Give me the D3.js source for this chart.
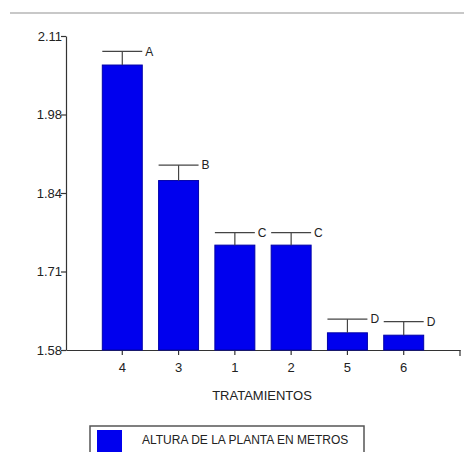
<!DOCTYPE html>
<html>
<head>
<meta charset="utf-8">
<script src="https://cdn.jsdelivr.net/npm/d3@7"></script>
<style>
  body { margin: 0; background: #fff; }
  text { font-family: "Liberation Sans", Arial, sans-serif; }
</style>
</head>
<body>
<script>
// data
var tratamientos = ['4', '3', '1', '2', '5', '6'];
var medias = [2.061, 1.866, 1.757, 1.757, 1.609, 1.605];
var errores = [0.023, 0.026, 0.021, 0.021, 0.023, 0.023];
var letras = ['A', 'B', 'C', 'C', 'D', 'D'];
var yTicks = [1.58, 1.7125, 1.845, 1.9775, 2.11];
var yTickLabels = ['1.58', '1.71', '1.84', '1.98', '2.11'];

var width = 464, height = 452;
var svg = d3.select('body').append('svg')
  .attr('width', width)
  .attr('height', height);

// top rule
svg.append('line')
  .attr('x1', 10).attr('x2', width)
  .attr('y1', 13).attr('y2', 13)
  .style('stroke', '#c8c8c8')
  .style('stroke-width', 2);

var x = d3.scaleBand()
  .domain(tratamientos)
  .range([66, 460])
  .paddingInner(0.29)
  .paddingOuter(0.645);

var y = d3.scaleLinear()
  .domain([1.58, 2.11])
  .range([350, 36]);

var axisColor = '#333';

// y axis
var yAxis = svg.append('g')
  .attr('transform', 'translate(66,0)')
  .call(d3.axisLeft(y)
    .tickValues(yTicks)
    .tickFormat(function(d, i) { return yTickLabels[i]; })
    .tickSize(5)
    .tickSizeOuter(0));

// x axis
var xAxis = svg.append('g')
  .attr('transform', 'translate(0,350)')
  .call(d3.axisBottom(x).tickSize(5).tickSizeOuter(0));

[yAxis, xAxis].forEach(function(ax) {
  ax.select('.domain').style('stroke', axisColor).style('stroke-width', 1.2);
  ax.selectAll('.tick line').style('stroke', axisColor).style('stroke-width', 1.2);
  ax.selectAll('.tick text')
    .style('font-family', '"Liberation Sans", Arial, sans-serif')
    .style('font-size', '13px')
    .style('fill', '#222');
});
yAxis.selectAll('.tick text').attr('x', -4);
xAxis.selectAll('.tick text').attr('dy', '1.05em');

// right end tick of x axis
svg.append('line')
  .attr('x1', 460).attr('x2', 460)
  .attr('y1', 350).attr('y2', 356)
  .style('stroke', axisColor).style('stroke-width', 1.2);

// bars
svg.append('g').selectAll('rect')
  .data(medias)
  .enter().append('rect')
  .attr('x', function(d, i) { return x(tratamientos[i]); })
  .attr('y', function(d) { return y(d); })
  .attr('width', x.bandwidth())
  .attr('height', function(d) { return y(1.58) - y(d); })
  .style('fill', '#0000ee')
  .style('stroke', '#0000a8')
  .style('stroke-width', 1);

// error bars
var err = svg.append('g').selectAll('g')
  .data(medias)
  .enter().append('g');

err.append('line')
  .attr('x1', function(d, i) { return x(tratamientos[i]) + x.bandwidth() / 2; })
  .attr('x2', function(d, i) { return x(tratamientos[i]) + x.bandwidth() / 2; })
  .attr('y1', function(d) { return y(d); })
  .attr('y2', function(d, i) { return y(d + errores[i]); })
  .style('stroke', '#444')
  .style('stroke-width', 1.2);

err.append('line')
  .attr('x1', function(d, i) { return x(tratamientos[i]); })
  .attr('x2', function(d, i) { return x(tratamientos[i]) + x.bandwidth(); })
  .attr('y1', function(d, i) { return y(d + errores[i]); })
  .attr('y2', function(d, i) { return y(d + errores[i]); })
  .style('stroke', '#444')
  .style('stroke-width', 1.2);

err.append('text')
  .attr('x', function(d, i) { return x(tratamientos[i]) + x.bandwidth() + 3; })
  .attr('y', function(d, i) { return y(d + errores[i]); })
  .attr('dy', '0.35em')
  .style('font-size', '12px')
  .style('fill', '#222')
  .text(function(d, i) { return letras[i]; });

// axis title
svg.append('text')
  .attr('x', 262)
  .attr('y', 400)
  .attr('text-anchor', 'middle')
  .style('font-size', '13px')
  .style('fill', '#222')
  .text('TRATAMIENTOS');

// legend
var legend = svg.append('g');
legend.append('rect')
  .attr('x', 90).attr('y', 426)
  .attr('width', 274).attr('height', 32)
  .style('fill', '#fff')
  .style('stroke', '#555')
  .style('stroke-width', 1.5);
legend.append('rect')
  .attr('x', 97).attr('y', 430)
  .attr('width', 25).attr('height', 25)
  .style('fill', '#0000ee');
legend.append('text')
  .attr('x', 142).attr('y', 444)
  .style('font-size', '12px')
  .style('fill', '#222')
  .text('ALTURA DE LA PLANTA EN METROS');
</script>
</body>
</html>
